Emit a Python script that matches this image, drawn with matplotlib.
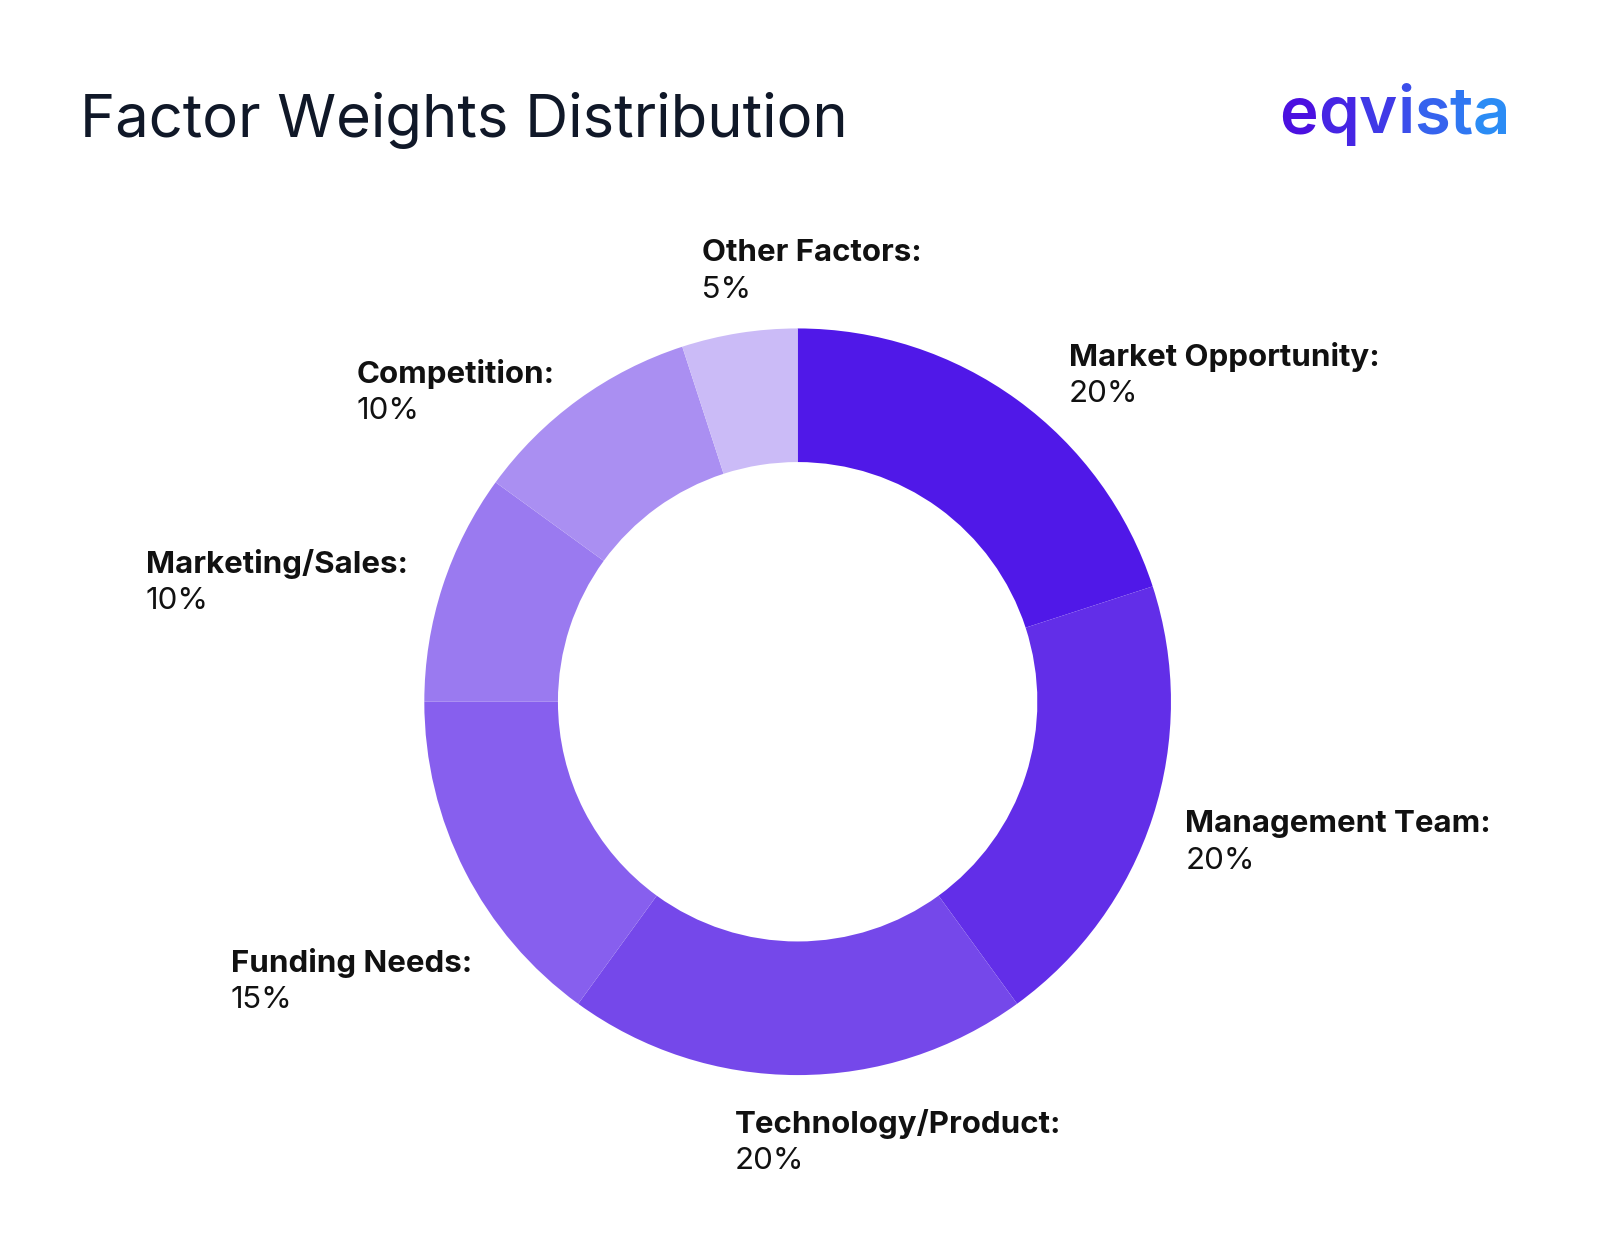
import matplotlib
matplotlib.use("Agg")
import matplotlib.pyplot as plt
import numpy as np

categories = ["Market Opportunity", "Management Team", "Technology/Product",
              "Funding Needs", "Marketing/Sales", "Competition", "Other Factors"]
values = [20, 20, 20, 15, 10, 10, 5]
colors = ["#5018E8", "#622EE8", "#7548EA", "#875FEE", "#9A7AF0", "#AA8FF2", "#CBBBF7"]
label_pos = [(1048, 350), (1162, 808), (720, 1102), (226, 944), (143, 553), (350, 367), (688, 248)]

S = 1.02
W, H = 1600, 1254
fig = plt.figure(figsize=(16, 12.54), dpi=100)
ax = fig.add_axes([0, 0, 1, 1])
cx, cy, R, r = 782 * S, 688 * S, 366 * S, 235 * S
ax.pie(values, colors=colors, startangle=90, counterclock=False,
       center=(cx, H - cy), radius=R,
       wedgeprops=dict(width=R - r, linewidth=0))
ax.set_xlim(0, W)
ax.set_ylim(0, H)
ax.set_aspect("equal")
ax.axis("off")

font = "Inter"
for cat, v, (px, py) in zip(categories, values, label_pos):
    ax.text(px * S, H - py * S, cat + ":", fontsize=22.5, fontweight="bold", color="#111111",
            family=font, va="center", ha="left")
    ax.text(px * S, H - (py + 36) * S, f"{v}%", fontsize=22.5, color="#111111",
            family=font, va="center", ha="left")

ax.text(78 * S, H - 118 * S, "Factor Weights Distribution", fontsize=43, color="#101828",
        family=font, va="center", ha="left")

logo = "eqvista"
c0 = np.array([0x4B, 0x10, 0xE0]) / 255
c1 = np.array([0x2B, 0x8C, 0xF5]) / 255
x = 1254 * S
for i, ch in enumerate(logo):
    t = i / (len(logo) - 1)
    col = c0 * (1 - t) + c1 * t
    txt = ax.text(x, H - 114 * S, ch, fontsize=47, fontweight="semibold", color=col,
                  family=font, va="center", ha="left")
    fig.canvas.draw()
    bb = txt.get_window_extent()
    x += bb.width

fig.savefig("out.png", dpi=100, facecolor="white")
